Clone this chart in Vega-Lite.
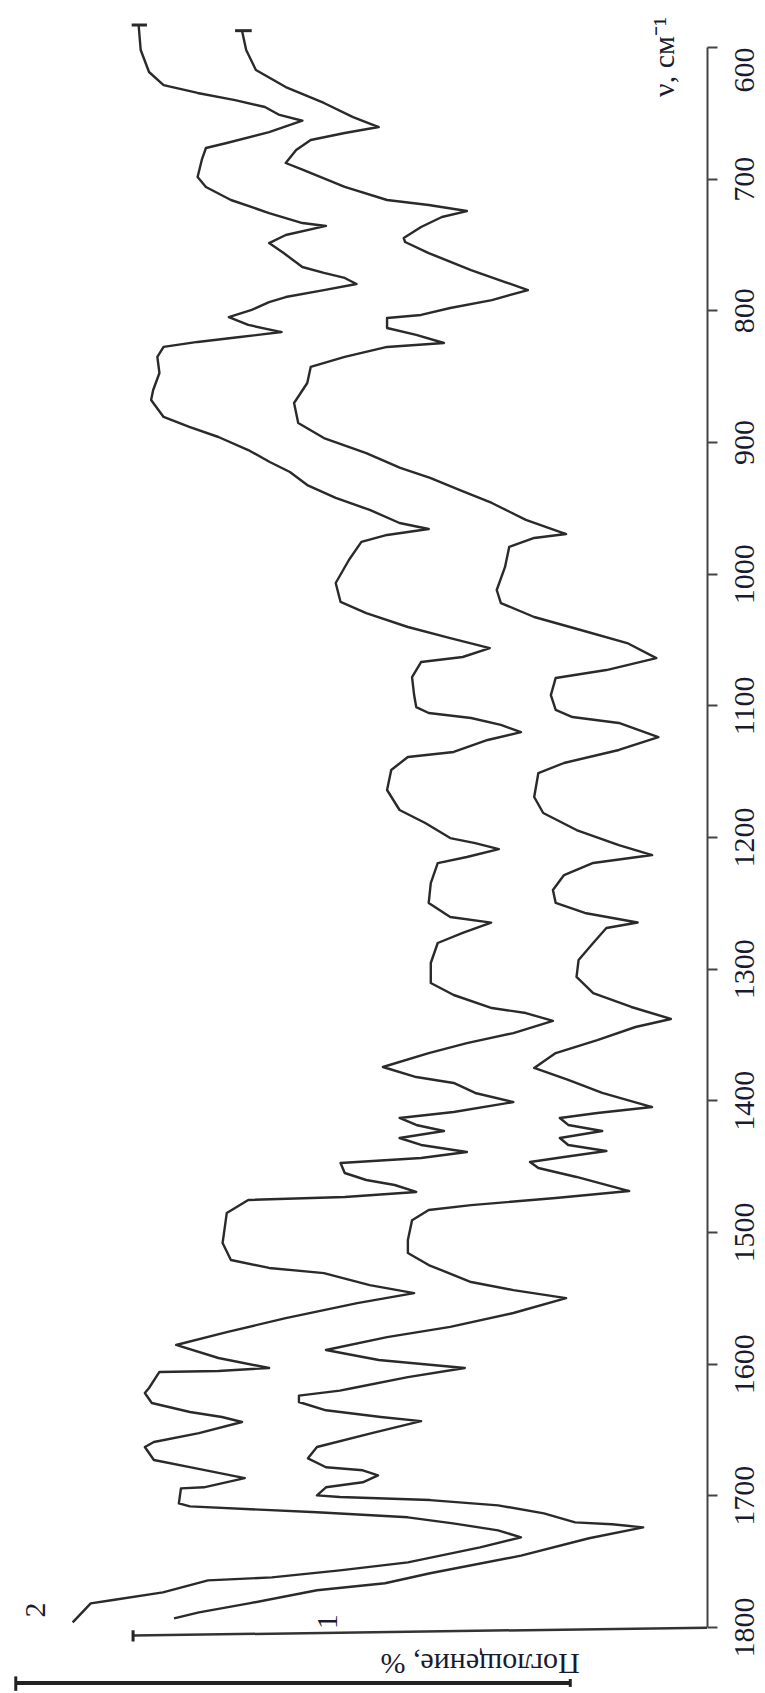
{
  "$schema": "https://vega.github.io/schema/vega-lite/v6.json",
  "width": 694,
  "height": 1580,
  "autosize": "none",
  "padding": {"left": 13, "top": 47, "right": 58, "bottom": 66},
  "background": "white",
  "config": {"view": {"stroke": null}},
  "datasets": {
    "spectra": [
      {"s":"2","wn":583.3,"a":18.1},{"s":"2","wn":602.3,"a":18.4},{"s":"2","wn":619.0,"a":19.6},{"s":"2","wn":628.9,"a":21.7},{"s":"2","wn":634.9,"a":26.6},{"s":"2","wn":640.3,"a":32.0},{"s":"2","wn":645.6,"a":36.3},{"s":"2","wn":651.6,"a":38.4},{"s":"2","wn":656.0,"a":41.7},{"s":"2","wn":664.6,"a":36.9},{"s":"2","wn":672.9,"a":30.8},{"s":"2","wn":676.7,"a":27.8},{"s":"2","wn":685.8,"a":27.2},{"s":"2","wn":698.7,"a":26.6},{"s":"2","wn":706.3,"a":27.8},{"s":"2","wn":716.2,"a":31.4},{"s":"2","wn":726.1,"a":36.9},{"s":"2","wn":733.7,"a":41.7},{"s":"2","wn":735.9,"a":45.1},{"s":"2","wn":742.8,"a":39.3},{"s":"2","wn":748.9,"a":36.9},{"s":"2","wn":756.5,"a":39.0},{"s":"2","wn":767.1,"a":41.7},{"s":"2","wn":771.6,"a":44.8},{"s":"2","wn":775.4,"a":47.8},{"s":"2","wn":780.0,"a":49.5},{"s":"2","wn":784.6,"a":44.8},{"s":"2","wn":789.9,"a":39.3},{"s":"2","wn":793.7,"a":36.9},{"s":"2","wn":799.7,"a":34.4},{"s":"2","wn":805.1,"a":31.1},{"s":"2","wn":811.1,"a":33.9},{"s":"2","wn":816.5,"a":38.7},{"s":"2","wn":820.3,"a":32.7},{"s":"2","wn":824.0,"a":26.6},{"s":"2","wn":827.8,"a":21.7},{"s":"2","wn":835.4,"a":20.8},{"s":"2","wn":847.6,"a":21.1},{"s":"2","wn":860.5,"a":20.2},{"s":"2","wn":868.1,"a":19.9},{"s":"2","wn":881.0,"a":21.7},{"s":"2","wn":888.6,"a":25.4},{"s":"2","wn":896.2,"a":29.6},{"s":"2","wn":906.1,"a":33.9},{"s":"2","wn":915.2,"a":37.0},{"s":"2","wn":922.8,"a":39.9},{"s":"2","wn":932.7,"a":42.4},{"s":"2","wn":942.5,"a":46.5},{"s":"2","wn":951.6,"a":51.4},{"s":"2","wn":961.5,"a":55.7},{"s":"2","wn":966.1,"a":59.9},{"s":"2","wn":970.6,"a":53.9},{"s":"2","wn":975.9,"a":50.2},{"s":"2","wn":989.6,"a":48.4},{"s":"2","wn":1007.1,"a":46.5},{"s":"2","wn":1021.5,"a":47.2},{"s":"2","wn":1029.9,"a":50.9},{"s":"2","wn":1040.5,"a":56.9},{"s":"2","wn":1048.9,"a":63.0},{"s":"2","wn":1056.5,"a":68.7},{"s":"2","wn":1063.3,"a":64.8},{"s":"2","wn":1067.1,"a":58.8},{"s":"2","wn":1078.5,"a":57.5},{"s":"2","wn":1092.2,"a":57.8},{"s":"2","wn":1101.3,"a":58.1},{"s":"2","wn":1105.8,"a":59.9},{"s":"2","wn":1109.6,"a":66.0},{"s":"2","wn":1114.9,"a":70.3},{"s":"2","wn":1120.3,"a":73.2},{"s":"2","wn":1126.3,"a":68.4},{"s":"2","wn":1135.4,"a":63.5},{"s":"2","wn":1139.2,"a":56.9},{"s":"2","wn":1149.1,"a":54.5},{"s":"2","wn":1164.3,"a":53.9},{"s":"2","wn":1179.5,"a":55.7},{"s":"2","wn":1189.4,"a":59.4},{"s":"2","wn":1200.8,"a":63.0},{"s":"2","wn":1204.6,"a":66.6},{"s":"2","wn":1209.2,"a":70.0},{"s":"2","wn":1215.2,"a":65.4},{"s":"2","wn":1219.8,"a":61.2},{"s":"2","wn":1235.0,"a":60.2},{"s":"2","wn":1250.1,"a":59.9},{"s":"2","wn":1260.8,"a":63.0},{"s":"2","wn":1265.0,"a":68.9},{"s":"2","wn":1272.9,"a":64.8},{"s":"2","wn":1280.5,"a":61.2},{"s":"2","wn":1295.7,"a":60.2},{"s":"2","wn":1310.9,"a":60.2},{"s":"2","wn":1320.0,"a":63.5},{"s":"2","wn":1329.9,"a":69.0},{"s":"2","wn":1333.7,"a":73.9},{"s":"2","wn":1339.7,"a":77.8},{"s":"2","wn":1348.9,"a":72.1},{"s":"2","wn":1356.5,"a":65.4},{"s":"2","wn":1364.1,"a":59.9},{"s":"2","wn":1374.7,"a":53.3},{"s":"2","wn":1382.3,"a":58.1},{"s":"2","wn":1386.8,"a":63.5},{"s":"2","wn":1394.4,"a":66.6},{"s":"2","wn":1401.3,"a":72.1},{"s":"2","wn":1408.9,"a":63.5},{"s":"2","wn":1413.4,"a":55.7},{"s":"2","wn":1418.7,"a":58.1},{"s":"2","wn":1423.3,"a":62.1},{"s":"2","wn":1428.6,"a":55.7},{"s":"2","wn":1433.9,"a":58.8},{"s":"2","wn":1439.2,"a":65.4},{"s":"2","wn":1443.8,"a":58.8},{"s":"2","wn":1447.6,"a":47.2},{"s":"2","wn":1455.2,"a":47.8},{"s":"2","wn":1460.5,"a":50.9},{"s":"2","wn":1464.3,"a":55.0},{"s":"2","wn":1469.6,"a":58.1},{"s":"2","wn":1473.4,"a":47.8},{"s":"2","wn":1475.7,"a":33.9},{"s":"2","wn":1485.6,"a":30.8},{"s":"2","wn":1508.4,"a":30.2},{"s":"2","wn":1521.3,"a":31.4},{"s":"2","wn":1527.3,"a":36.9},{"s":"2","wn":1531.2,"a":44.8},{"s":"2","wn":1540.3,"a":51.4},{"s":"2","wn":1546.4,"a":57.8},{"s":"2","wn":1554.0,"a":49.6},{"s":"2","wn":1565.4,"a":39.3},{"s":"2","wn":1576.0,"a":30.8},{"s":"2","wn":1585.8,"a":23.5},{"s":"2","wn":1595.7,"a":29.6},{"s":"2","wn":1603.3,"a":36.9},{"s":"2","wn":1605.6,"a":29.6},{"s":"2","wn":1606.3,"a":21.1},{"s":"2","wn":1618.5,"a":19.6},{"s":"2","wn":1622.3,"a":19.0},{"s":"2","wn":1629.9,"a":20.0},{"s":"2","wn":1636.7,"a":25.5},{"s":"2","wn":1640.5,"a":30.1},{"s":"2","wn":1644.3,"a":33.0},{"s":"2","wn":1652.7,"a":26.8},{"s":"2","wn":1659.5,"a":20.3},{"s":"2","wn":1663.3,"a":19.0},{"s":"2","wn":1673.2,"a":20.3},{"s":"2","wn":1679.3,"a":26.2},{"s":"2","wn":1686.9,"a":33.4},{"s":"2","wn":1693.9,"a":27.5},{"s":"2","wn":1694.7,"a":24.2},{"s":"2","wn":1706.1,"a":23.9},{"s":"2","wn":1708.4,"a":25.5},{"s":"2","wn":1712.9,"a":43.8},{"s":"2","wn":1716.7,"a":56.9},{"s":"2","wn":1721.3,"a":63.4},{"s":"2","wn":1726.6,"a":69.9},{"s":"2","wn":1731.9,"a":73.2},{"s":"2","wn":1739.5,"a":67.3},{"s":"2","wn":1750.9,"a":56.9},{"s":"2","wn":1757.0,"a":47.1},{"s":"2","wn":1762.3,"a":37.3},{"s":"2","wn":1764.6,"a":28.1},{"s":"2","wn":1773.7,"a":21.6},{"s":"2","wn":1779.5,"a":14.4},{"s":"2","wn":1782.1,"a":11.2},{"s":"2","wn":1796.5,"a":8.6},
      {"s":"1","wn":587.6,"a":33.0},{"s":"1","wn":602.3,"a":33.6},{"s":"1","wn":617.5,"a":35.0},{"s":"1","wn":630.4,"a":39.3},{"s":"1","wn":642.5,"a":44.8},{"s":"1","wn":653.2,"a":49.0},{"s":"1","wn":660.8,"a":52.7},{"s":"1","wn":665.3,"a":47.8},{"s":"1","wn":670.6,"a":42.9},{"s":"1","wn":678.2,"a":40.8},{"s":"1","wn":688.1,"a":39.3},{"s":"1","wn":693.4,"a":41.8},{"s":"1","wn":706.3,"a":47.8},{"s":"1","wn":716.2,"a":53.9},{"s":"1","wn":720.0,"a":59.9},{"s":"1","wn":724.6,"a":65.4},{"s":"1","wn":729.1,"a":61.8},{"s":"1","wn":736.7,"a":58.8},{"s":"1","wn":745.1,"a":56.3},{"s":"1","wn":748.1,"a":56.5},{"s":"1","wn":756.5,"a":59.9},{"s":"1","wn":769.4,"a":66.0},{"s":"1","wn":778.5,"a":70.9},{"s":"1","wn":784.6,"a":74.2},{"s":"1","wn":792.2,"a":69.0},{"s":"1","wn":798.2,"a":63.0},{"s":"1","wn":803.5,"a":58.8},{"s":"1","wn":805.8,"a":53.9},{"s":"1","wn":813.4,"a":53.9},{"s":"1","wn":818.7,"a":58.1},{"s":"1","wn":824.8,"a":62.1},{"s":"1","wn":827.8,"a":53.9},{"s":"1","wn":835.4,"a":47.8},{"s":"1","wn":843.0,"a":42.9},{"s":"1","wn":855.2,"a":42.4},{"s":"1","wn":870.4,"a":40.5},{"s":"1","wn":885.6,"a":41.1},{"s":"1","wn":897.0,"a":44.8},{"s":"1","wn":908.4,"a":50.9},{"s":"1","wn":919.7,"a":55.8},{"s":"1","wn":927.3,"a":60.1},{"s":"1","wn":936.5,"a":64.4},{"s":"1","wn":946.3,"a":69.0},{"s":"1","wn":959.2,"a":73.9},{"s":"1","wn":969.9,"a":79.7},{"s":"1","wn":972.9,"a":75.1},{"s":"1","wn":979.7,"a":71.5},{"s":"1","wn":994.9,"a":70.9},{"s":"1","wn":1012.4,"a":69.7},{"s":"1","wn":1022.3,"a":70.3},{"s":"1","wn":1032.9,"a":75.1},{"s":"1","wn":1042.8,"a":81.8},{"s":"1","wn":1052.7,"a":88.5},{"s":"1","wn":1064.1,"a":92.7},{"s":"1","wn":1073.2,"a":85.5},{"s":"1","wn":1079.2,"a":78.2},{"s":"1","wn":1092.2,"a":77.5},{"s":"1","wn":1103.5,"a":78.2},{"s":"1","wn":1108.9,"a":80.6},{"s":"1","wn":1113.4,"a":87.3},{"s":"1","wn":1124.1,"a":93.0},{"s":"1","wn":1133.9,"a":87.3},{"s":"1","wn":1143.8,"a":79.4},{"s":"1","wn":1151.4,"a":75.7},{"s":"1","wn":1169.6,"a":75.1},{"s":"1","wn":1181.8,"a":76.4},{"s":"1","wn":1194.7,"a":81.2},{"s":"1","wn":1206.1,"a":87.3},{"s":"1","wn":1213.7,"a":92.1},{"s":"1","wn":1219.7,"a":83.6},{"s":"1","wn":1228.9,"a":79.4},{"s":"1","wn":1240.3,"a":77.8},{"s":"1","wn":1250.1,"a":78.2},{"s":"1","wn":1257.7,"a":82.4},{"s":"1","wn":1264.9,"a":90.0},{"s":"1","wn":1269.1,"a":85.5},{"s":"1","wn":1280.5,"a":83.6},{"s":"1","wn":1293.4,"a":81.5},{"s":"1","wn":1306.3,"a":81.2},{"s":"1","wn":1318.5,"a":83.6},{"s":"1","wn":1329.1,"a":89.1},{"s":"1","wn":1338.2,"a":94.8},{"s":"1","wn":1344.3,"a":89.7},{"s":"1","wn":1354.2,"a":84.2},{"s":"1","wn":1364.1,"a":78.2},{"s":"1","wn":1375.4,"a":75.1},{"s":"1","wn":1384.5,"a":80.0},{"s":"1","wn":1394.4,"a":84.9},{"s":"1","wn":1405.1,"a":92.1},{"s":"1","wn":1409.6,"a":84.2},{"s":"1","wn":1413.4,"a":78.8},{"s":"1","wn":1418.7,"a":80.0},{"s":"1","wn":1423.3,"a":84.9},{"s":"1","wn":1428.6,"a":78.8},{"s":"1","wn":1433.9,"a":80.0},{"s":"1","wn":1438.5,"a":85.5},{"s":"1","wn":1443.0,"a":79.4},{"s":"1","wn":1446.8,"a":74.5},{"s":"1","wn":1451.4,"a":75.7},{"s":"1","wn":1458.2,"a":81.2},{"s":"1","wn":1468.9,"a":88.8},{"s":"1","wn":1474.2,"a":78.2},{"s":"1","wn":1479.6,"a":66.0},{"s":"1","wn":1483.3,"a":59.9},{"s":"1","wn":1491.0,"a":57.5},{"s":"1","wn":1506.1,"a":56.9},{"s":"1","wn":1516.0,"a":56.9},{"s":"1","wn":1525.1,"a":59.9},{"s":"1","wn":1538.0,"a":66.0},{"s":"1","wn":1544.1,"a":72.1},{"s":"1","wn":1550.2,"a":79.7},{"s":"1","wn":1561.5,"a":72.1},{"s":"1","wn":1572.1,"a":63.0},{"s":"1","wn":1579.8,"a":53.9},{"s":"1","wn":1589.6,"a":45.1},{"s":"1","wn":1597.2,"a":52.7},{"s":"1","wn":1603.3,"a":65.1},{"s":"1","wn":1610.2,"a":56.9},{"s":"1","wn":1618.5,"a":49.0},{"s":"1","wn":1620.5,"a":47.1},{"s":"1","wn":1624.3,"a":41.2},{"s":"1","wn":1629.1,"a":41.2},{"s":"1","wn":1635.4,"a":45.1},{"s":"1","wn":1640.5,"a":53.0},{"s":"1","wn":1643.6,"a":58.8},{"s":"1","wn":1652.7,"a":51.7},{"s":"1","wn":1663.3,"a":43.8},{"s":"1","wn":1671.9,"a":42.5},{"s":"1","wn":1678.7,"a":45.1},{"s":"1","wn":1681.0,"a":50.4},{"s":"1","wn":1684.8,"a":52.6},{"s":"1","wn":1690.1,"a":50.4},{"s":"1","wn":1693.9,"a":45.1},{"s":"1","wn":1700.0,"a":43.8},{"s":"1","wn":1701.3,"a":47.1},{"s":"1","wn":1703.6,"a":60.1},{"s":"1","wn":1707.6,"a":69.9},{"s":"1","wn":1713.7,"a":76.5},{"s":"1","wn":1720.5,"a":81.0},{"s":"1","wn":1722.0,"a":86.3},{"s":"1","wn":1724.3,"a":90.8},{"s":"1","wn":1732.6,"a":83.0},{"s":"1","wn":1745.8,"a":73.2},{"s":"1","wn":1759.2,"a":60.1},{"s":"1","wn":1766.8,"a":53.6},{"s":"1","wn":1772.1,"a":43.8},{"s":"1","wn":1782.1,"a":34.0},{"s":"1","wn":1788.9,"a":26.8},{"s":"1","wn":1793.5,"a":23.2}
    ],
    "startcaps": [
      {"s":"2","wn":583.3,"a":17.1,"a2":19.3},
      {"s":"1","wn":587.6,"a":32.0,"a2":34.4}
    ],
    "absaxis": [
      {"a":17.3,"a2":100,"wn":1806.5,"wn2":1800.5}
    ],
    "scalebar": [
      {"a":0.3,"a2":80.3,"wn":1842.5,"wn2":1842.5}
    ],
    "endcaps": [
      {"a":0.4,"wn":1837.5,"wn2":1848.5},
      {"a":80.3,"wn":1839.5,"wn2":1845.5},
      {"a":17.3,"wn":1802.5,"wn2":1811}
    ],
    "vlabels": [
      {"t":"ν, см⁻¹","wn":607.6,"a":93.9},
      {"t":"2","wn":1787.1,"a":3.3},
      {"t":"1","wn":1796.0,"a":45.4}
    ],
    "hlabels": [
      {"t":"Поглощение, %","wn":1827.3,"a":67.3}
    ]
  },
  "encoding": {
    "x": {"field":"a","type":"quantitative","scale":{"domain":[0,100],"nice":false,"zero":false},"axis":null},
    "y": {"field":"wn","type":"quantitative","scale":{"domain":[600,1800],"reverse":true,"nice":false,"zero":false},
      "axis":{"orient":"right","title":null,"grid":false,"format":"d","values":[600,700,800,900,1000,1100,1200,1300,1400,1500,1600,1700,1800],
        "domainColor":"#444","domainWidth":2,"tickColor":"#444","tickWidth":2,"tickSize":10,
        "labelFont":"Liberation Serif","labelFontSize":30,"labelColor":"#1a1a30","labelAngle":270,
        "labelAlign":{"condition":{"test":"datum.value == 600","value":"right"},"value":"center"},
        "labelBaseline":"top","labelPadding":12,"labelOverlap":false,"labelFlush":false,"labelBound":false}}
  },
  "layer": [
    {"data":{"name":"spectra"},"mark":{"type":"line","color":"#2a2a2a","strokeWidth":2.4,"strokeJoin":"round"},
     "encoding":{"detail":{"field":"s"},"order":{"field":"wn","type":"quantitative"}}},
    {"data":{"name":"startcaps"},"mark":{"type":"rule","color":"#2a2a2a","strokeWidth":3},"encoding":{"x2":{"field":"a2"}}},
    {"data":{"name":"absaxis"},"mark":{"type":"rule","color":"#333","strokeWidth":2.5},"encoding":{"x2":{"field":"a2"},"y2":{"field":"wn2"}}},
    {"data":{"name":"scalebar"},"mark":{"type":"rule","color":"#222","strokeWidth":4},"encoding":{"x2":{"field":"a2"},"y2":{"field":"wn2"}}},
    {"data":{"name":"endcaps"},"mark":{"type":"rule","color":"#222","strokeWidth":3},"encoding":{"y2":{"field":"wn2"}}},
    {"data":{"name":"vlabels"},"mark":{"type":"text","angle":270,"font":"Liberation Serif","fontSize":30,"align":"center","baseline":"middle","color":"#1a1a30"},"encoding":{"text":{"field":"t"}}},
    {"data":{"name":"hlabels"},"mark":{"type":"text","angle":180,"font":"Liberation Serif","fontSize":30,"align":"center","baseline":"middle","color":"#1a1a30"},"encoding":{"text":{"field":"t"}}}
  ]
}
